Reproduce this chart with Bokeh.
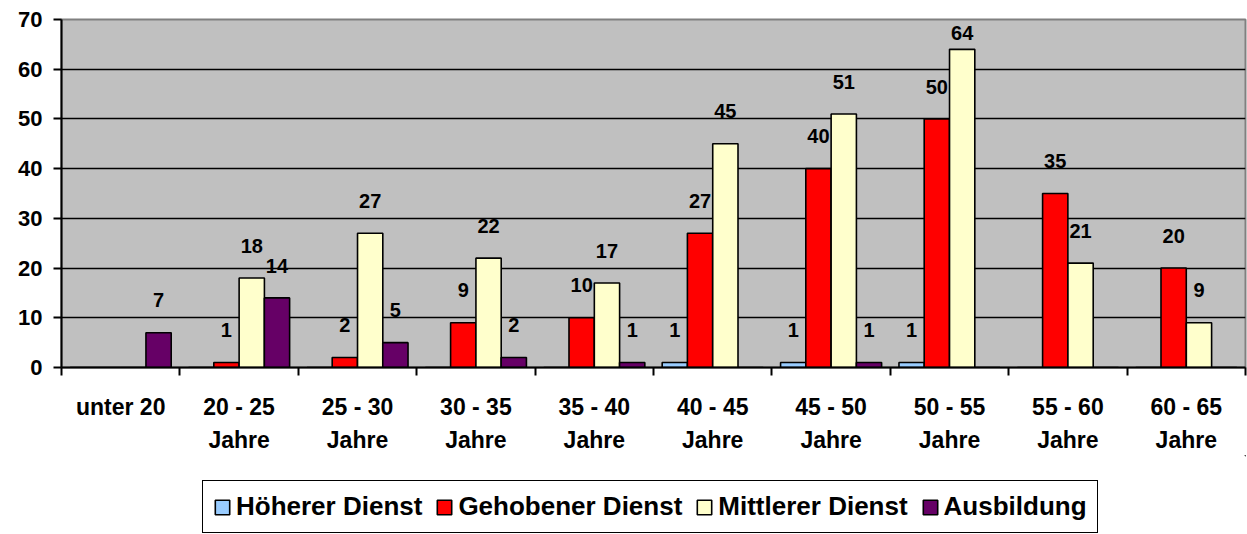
from bokeh.plotting import figure
from bokeh.layouts import column
from bokeh.models import (Range1d, FixedTicker, Legend, LegendItem, ColumnDataSource, LinearAxis)
from bokeh.core.properties import value
from bokeh.embed import file_html
from bokeh.resources import INLINE

categories = ["unter 20", "20 - 25 Jahre", "25 - 30 Jahre", "30 - 35 Jahre", "35 - 40 Jahre",
              "40 - 45 Jahre", "45 - 50 Jahre", "50 - 55 Jahre", "55 - 60 Jahre", "60 - 65 Jahre"]
hoeherer = [0, 0, 0, 0, 0, 1, 1, 1, 0, 0]
gehobener = [0, 1, 2, 9, 10, 27, 40, 50, 35, 20]
mittlerer = [0, 18, 27, 22, 17, 45, 51, 64, 21, 9]
ausbildung = [7, 14, 5, 2, 1, 0, 1, 0, 0, 0]
series_names = ["Höherer Dienst", "Gehobener Dienst", "Mittlerer Dienst", "Ausbildung"]
y_ticks = [0, 10, 20, 30, 40, 50, 60, 70]

series = [hoeherer, gehobener, mittlerer, ausbildung]
colors = ["#99CCFF", "#FF0000", "#FFFFCC", "#660066"]
offsets = [-0.32, -0.107, 0.107, 0.32]
bar_w = 0.2135
FONT = "Liberation Sans"

p = figure(width=1247, height=455, output_backend="svg", toolbar_location=None,
           x_range=Range1d(0, len(categories)), y_range=Range1d(0, 70),
           min_border_left=61, min_border_right=2, min_border_top=19, min_border_bottom=0)
p.background_fill_color = "#C0C0C0"
p.border_fill_color = "white"
p.outline_line_color = "#808080"
p.outline_line_width = 2

# grid
p.xgrid.visible = False
p.ygrid.ticker = FixedTicker(ticks=y_ticks[1:-1])
p.ygrid.grid_line_color = "black"
p.ygrid.grid_line_width = 1.6

# y axis
p.yaxis.ticker = FixedTicker(ticks=y_ticks)
p.yaxis.axis_line_color = "black"
p.yaxis.axis_line_width = 2
p.yaxis.major_tick_line_color = "black"
p.yaxis.major_tick_line_width = 2
p.yaxis.major_tick_out = 8
p.yaxis.major_tick_in = 0
p.yaxis.minor_tick_line_color = None
p.yaxis.major_label_standoff = 11
p.yaxis.major_label_text_font = FONT
p.yaxis.major_label_text_font_style = "bold"
p.yaxis.major_label_text_font_size = "22px"
p.yaxis.major_label_text_color = "black"

# x axis: labels at category centres, tick marks at category boundaries
centres = [i + 0.5 for i in range(len(categories))]
bounds = [float(i) for i in range(len(categories) + 1)]
first_lines = [lab.replace(" Jahre", "") for lab in categories]
second_lines = ["Jahre" if lab.endswith("Jahre") else "" for lab in categories]

xa = p.xaxis[0]
xa.ticker = FixedTicker(ticks=centres, minor_ticks=bounds)
xa.major_label_overrides = dict(zip(centres, first_lines))
xa.axis_line_color = "black"
xa.axis_line_width = 2
xa.major_tick_line_color = None
xa.major_tick_out = 8
xa.major_tick_in = 0
xa.minor_tick_line_color = "black"
xa.minor_tick_line_width = 2
xa.minor_tick_out = 8
xa.minor_tick_in = 0
xa.major_label_standoff = 18
xa.major_label_text_font = FONT
xa.major_label_text_font_style = "bold"
xa.major_label_text_font_size = "23px"
xa.major_label_text_color = "black"

xa2 = LinearAxis(ticker=FixedTicker(ticks=centres, minor_ticks=[]))
xa2.major_label_overrides = dict(zip(centres, second_lines))
xa2.axis_line_color = None
xa2.major_tick_line_color = None
xa2.minor_tick_line_color = None
xa2.major_tick_out = 0
xa2.major_tick_in = 0
xa2.major_label_standoff = 4
xa2.major_label_text_font = FONT
xa2.major_label_text_font_style = "bold"
xa2.major_label_text_font_size = "23px"
xa2.major_label_text_color = "black"
p.add_layout(xa2, "below")

for vals, col, off in zip(series, colors, offsets):
    xs = [c + off for c in centres]
    src = ColumnDataSource(dict(x=xs, top=vals))
    p.vbar(x="x", top="top", width=bar_w, source=src, fill_color=col,
           line_color="black", line_width=1.6)
    lx = [x for x, v in zip(xs, vals) if v > 0]
    lv = [v for v in vals if v > 0]
    ly = [min(v + 6.5, 67.2) for v in lv]
    lsrc = ColumnDataSource(dict(x=lx, y=ly, t=[str(v) for v in lv]))
    p.text(x="x", y="y", text="t", source=lsrc, text_align="center", text_baseline="middle",
           text_font=value(FONT), text_font_style="bold", text_font_size="20px", text_color="black")

# legend in its own strip below the chart (frames are aligned by the column layout)
p2 = figure(width=1247, height=79, output_backend="svg", toolbar_location=None,
            x_range=Range1d(0, 1), y_range=Range1d(0, 1),
            min_border_left=61, min_border_right=2, min_border_top=0, min_border_bottom=0)
p2.axis.visible = False
p2.grid.visible = False
p2.outline_line_color = None
p2.background_fill_color = "white"
p2.border_fill_color = "white"

items = []
for col, name in zip(colors, series_names):
    # legend swatch carriers, placed outside the visible range of the strip
    r = p2.vbar(x="x", top="top", bottom="bottom", width=0.01,
                source=ColumnDataSource(dict(x=[5.0], top=[5.0], bottom=[4.0])),
                fill_color=col, line_color="black", line_width=1.6)
    items.append(LegendItem(label=name, renderers=[r]))

legend = Legend(items=items, orientation="horizontal", location=(141, 1))
legend.label_text_font = FONT
legend.label_text_font_style = "bold"
legend.label_text_font_size = "26px"
legend.label_text_color = "black"
legend.glyph_width = 18
legend.glyph_height = 18
legend.label_standoff = 5
legend.spacing = 13
legend.padding = 10
legend.margin = 0
legend.border_line_color = "black"
legend.border_line_alpha = 1
legend.border_line_width = 1.5
legend.background_fill_color = "white"
legend.background_fill_alpha = 1
p2.add_layout(legend, "center")

layout = column(p, p2, spacing=0)
open("out.html", "w").write(file_html(layout, INLINE))
